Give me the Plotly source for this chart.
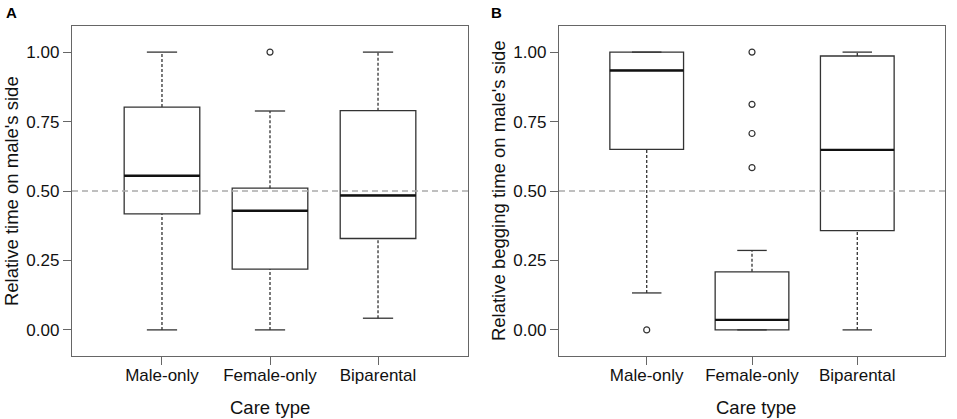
import plotly.graph_objects as go

# care types on the x axis
care = ["Male-only", "Female-only", "Biparental"]
pos = [1, 2, 3]
y_ticks = [0.0, 0.25, 0.5, 0.75, 1.0]

# panel A: relative time on male's side (box summary)
a_lower = [0.0, 0.0, 0.042]
a_q1 = [0.418, 0.219, 0.329]
a_med = [0.555, 0.429, 0.484]
a_q3 = [0.802, 0.510, 0.789]
a_upper = [1.0, 0.788, 1.0]
a_out_x = [2]
a_out_y = [1.0]

# panel B: relative begging time on male's side
b_lower = [0.133, 0.0, 0.0]
b_q1 = [0.650, 0.0, 0.357]
b_med = [0.934, 0.036, 0.648]
b_q3 = [1.0, 0.209, 0.986]
b_upper = [1.0, 0.286, 1.0]
b_out_x = [1, 2, 2, 2, 2]
b_out_y = [0.0, 1.0, 0.812, 0.707, 0.584]

FONT = "Liberation Sans, Arial, sans-serif"
BOX_W = 0.7
CAP_W = 0.28

fig = go.Figure()

panels = [
    ("x", "y", a_lower, a_q1, a_med, a_q3, a_upper, a_out_x, a_out_y),
    ("x2", "y2", b_lower, b_q1, b_med, b_q3, b_upper, b_out_x, b_out_y),
]

for xa, ya, lo, q1, med, q3, up, ox, oy in panels:
    # boxes (no whiskers, drawn separately so they can be dashed)
    fig.add_trace(go.Box(
        x=pos, q1=q1, median=med, q3=q3, lowerfence=q1, upperfence=q3,
        width=BOX_W, whiskerwidth=0, fillcolor="rgba(0,0,0,0)",
        line=dict(color="#333333", width=1.3), boxpoints=False,
        xaxis=xa, yaxis=ya, showlegend=False, hoverinfo="skip"))

    # dashed whiskers
    wx, wy = [], []
    for p, l, a, b, u in zip(pos, lo, q1, q3, up):
        wx += [p, p, None, p, p, None]
        wy += [b, u, None, l, a, None]
    fig.add_trace(go.Scatter(
        x=wx, y=wy, mode="lines", line=dict(color="#333333", width=1.3, dash="3px,2px"),
        xaxis=xa, yaxis=ya, showlegend=False, hoverinfo="skip"))

    # whisker caps
    cx, cy = [], []
    for p, l, u in zip(pos, lo, up):
        cx += [p - CAP_W / 2, p + CAP_W / 2, None, p - CAP_W / 2, p + CAP_W / 2, None]
        cy += [u, u, None, l, l, None]
    fig.add_trace(go.Scatter(
        x=cx, y=cy, mode="lines", line=dict(color="#333333", width=1.3),
        xaxis=xa, yaxis=ya, showlegend=False, hoverinfo="skip"))

    # thick medians
    mx, my = [], []
    for p, m in zip(pos, med):
        mx += [p - BOX_W / 2, p + BOX_W / 2, None]
        my += [m, m, None]
    fig.add_trace(go.Scatter(
        x=mx, y=my, mode="lines", line=dict(color="#111111", width=2.4),
        xaxis=xa, yaxis=ya, showlegend=False, hoverinfo="skip"))

    # outliers
    fig.add_trace(go.Scatter(
        x=ox, y=oy, mode="markers",
        marker=dict(symbol="circle-open", size=6, color="#333333", line=dict(width=1.2)),
        xaxis=xa, yaxis=ya, showlegend=False, hoverinfo="skip"))

    # reference line at 0.5
    fig.add_shape(type="line", xref=xa + " domain", yref=ya, x0=0, x1=1, y0=0.5, y1=0.5,
                  line=dict(color="#aaaaaa", width=1.5, dash="6px,4px"), layer="above")

x_common = dict(range=[0.167, 3.833], tickvals=pos, ticktext=care, ticks="outside",
                ticklen=8, tickcolor="#666666", showline=True, linecolor="#666666",
                linewidth=1.3, mirror=True, showgrid=False, zeroline=False,
                ticklabelstandoff=-5,
                tickfont=dict(family=FONT, size=17, color="#111111"))
y_common = dict(range=[-0.094, 1.094], tickvals=y_ticks, tickformat=".2f", ticks="outside",
                ticklen=8, tickcolor="#666666", showline=True, linecolor="#666666",
                linewidth=1.3, mirror=True, showgrid=False, zeroline=False,
                tickfont=dict(family=FONT, size=17, color="#111111"))

fig.update_layout(
    width=957, height=419,
    margin=dict(l=0, r=0, t=0, b=0),
    paper_bgcolor="white", plot_bgcolor="white",
    xaxis=dict(domain=[72 / 957, 468 / 957], anchor="y", **x_common),
    yaxis=dict(domain=[1 - 356 / 419, 1 - 26 / 419], anchor="x", **y_common),
    xaxis2=dict(domain=[559 / 957, 945 / 957], anchor="y2", **x_common),
    yaxis2=dict(domain=[1 - 356 / 419, 1 - 26 / 419], anchor="x2", **y_common),
)

title_font = dict(family=FONT, size=18.5, color="#111111")
letter_font = dict(family=FONT, size=15, color="#000000")
annotations = [
    dict(text="Relative time on male's side", x=11 / 957, y=0.544, textangle=-90, font=title_font),
    dict(text="Relative begging time on male's side", x=498 / 957, y=0.544, textangle=-90, font=title_font),
    dict(text="Care type", x=270 / 957, y=1 - 407 / 419, font=title_font),
    dict(text="Care type", x=756 / 957, y=1 - 407 / 419, font=title_font),
    dict(text="<b>A</b>", x=11 / 957, y=1 - 12 / 419, font=letter_font),
    dict(text="<b>B</b>", x=496 / 957, y=1 - 12 / 419, font=letter_font),
]
for a in annotations:
    fig.add_annotation(xref="paper", yref="paper", showarrow=False,
                       xanchor="center", yanchor="middle", **a)

# drop the page's default body margin so the figure sits at the window corner
fig.write_html("out.html", config={"displayModeBar": False},
               post_script="document.body.style.margin='0';")
